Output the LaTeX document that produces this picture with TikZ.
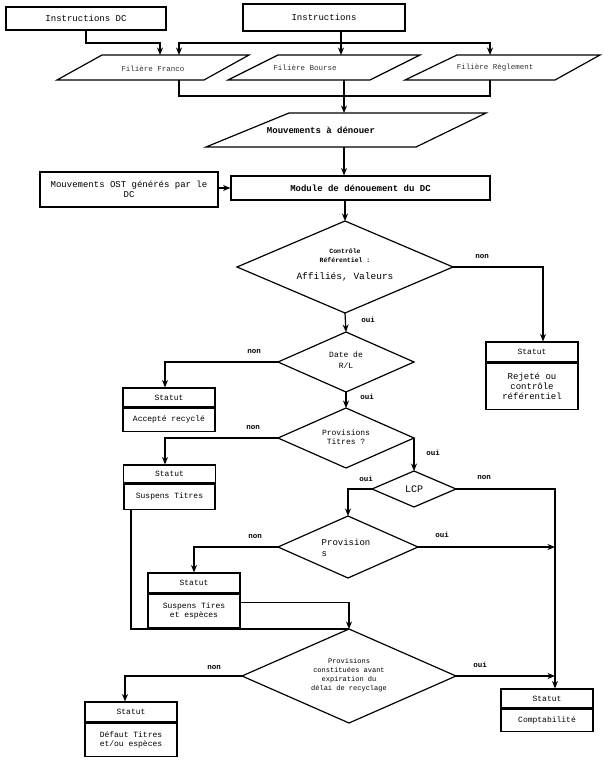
\documentclass[tikz,border=0pt]{standalone}
\usepackage{fontspec}
\setmainfont{Liberation Mono}
\usetikzlibrary{arrows.meta,calc}
\tikzset{
  ln/.style={line width=1.2pt, line join=miter},
  arr/.style={ln,-{Stealth[length=7.5pt,width=6pt]}},
  box/.style={draw, line width=1.1pt, inner sep=1pt, align=center},
  hdr/.style={box, minimum width=92pt, font=\fontsize{8}{9}\selectfont},
  lbl/.style={font=\bfseries\fontsize{7.5}{8}\selectfont, inner sep=0pt},
  f8/.style={font=\fontsize{8}{9.5}\selectfont},
}
\begin{document}
\begin{tikzpicture}[x=1pt,y=-1pt]
\useasboundingbox (0,0) rectangle (604,762);
% top boxes
\node[box, minimum width=160pt, minimum height=23pt, font=\fontsize{9}{10}\selectfont] (idc) at (86,18.5) {Instructions DC};
\node[box, minimum width=162pt, minimum height=27pt, font=\fontsize{9}{10}\selectfont] (ins) at (324,17.5) {Instructions};
% parallelograms
\draw[ln] (102,55) -- (249,55) -- (204,80) -- (57,80) -- cycle;
\node[font=\fontsize{7.5}{8}\selectfont, text=black!80] (p1) at (153,68.5) {Filière Franco};
\draw[ln] (278,55) -- (420,55) -- (370,80) -- (228,80) -- cycle;
\node[font=\fontsize{7.5}{8}\selectfont, text=black!80] (p2) at (305,68) {Filière Bourse};
\draw[ln] (457,55) -- (600,55) -- (555,80) -- (405,80) -- cycle;
\node[font=\fontsize{7.5}{8}\selectfont, text=black!80] (p3) at (495,67.5) {Filière Règlement};
\coordinate (p1a) at (160,55);
\coordinate (p1b) at (179,55);
\coordinate (p2a) at (341,55);
\coordinate (p3a) at (490,55);
\coordinate (spl) at (341,43);
\draw[arr] (idc.south) -- (idc.south |- spl) -| (p1a);
\draw[arr] ([xshift=17pt]ins.south) -- (p2a);
\draw[arr] (spl) -| (p1b);
\draw[arr] (spl) -| (p3a);
% bracket below
\coordinate (b1) at (179,80);
\coordinate (b2) at (490,80);
\coordinate (b3) at (344,80);
\draw[ln] (b1) -- (179,96) -- (490,96) -- (b2);
% Mouvements a denouer
\draw[ln] (289,113) -- (486,113) -- (416,147) -- (206,147) -- cycle;
\node[font=\bfseries\fontsize{9}{10}\selectfont] (mad) at (321,130) {Mouvements à dénouer};
\coordinate (madn) at (344,113);
\coordinate (mads) at (344,147);
\draw[arr] (b3) -- (madn);
% module
\node[box, minimum width=259pt, minimum height=24pt, font=\bfseries\fontsize{9}{10}\selectfont] (mod) at (360.5,188) {Module de dénouement du DC};
\node[box, minimum width=178pt, minimum height=35pt, font=\fontsize{9}{10.5}\selectfont] (ost) at (129,189.5) {Mouvements OST générés par le\\DC};
\draw[arr] (mads) -- (mads |- mod.north);
\draw[arr] (ost.east |- mod.west) -- (mod.west);
% diamond 1
\coordinate (d1w) at (237,267); \coordinate (d1n) at (345,221);
\coordinate (d1e) at (453,267); \coordinate (d1s) at (345,313);
\draw[ln] (d1w) -- (d1n) -- (d1e) -- (d1s) -- cycle;
\node[align=center, font=\bfseries\fontsize{6.5}{9}\selectfont] (d1t) at (345,256) {Contrôle\\Référentiel :};
\node[font=\fontsize{9.5}{10}\selectfont] (d1u) at (345,277) {Affiliés, Valeurs};
\draw[arr] (d1n |- mod.south) -- (d1n);
% Rejete box
\node[hdr, minimum height=20pt] (rjh) at (532,352) {Statut};
\node[box, minimum width=92pt, minimum height=46pt, anchor=north, font=\fontsize{9}{10}\selectfont] (rjb) at (rjh.south) {Rejeté ou\\contrôle\\référentiel};
\draw[arr] (d1e) -| ([xshift=11pt]rjh.north);
\node[lbl] at (482,257) {non};
% diamond 2
\coordinate (d2w) at (278,362); \coordinate (d2n) at (346,332);
\coordinate (d2e) at (414,362); \coordinate (d2s) at (346,392);
\draw[ln] (d2w) -- (d2n) -- (d2e) -- (d2s) -- cycle;
\node[align=center, font=\fontsize{8}{11}\selectfont] (d2t) at (346,360) {Date de\\R/L};
\draw[arr] (d1s) -- (d2n);
\node[lbl] at (368,320) {oui};
% Accepte box
\node[hdr, minimum height=19pt] (ach) at (169,397.5) {Statut};
\node[box, minimum width=92pt, minimum height=23pt, anchor=north, f8] (acb) at (ach.south) {Accepté recyclé};
\draw[arr] (d2w) -| ([xshift=-4pt]ach.north);
\node[lbl] at (254,352) {non};
% diamond 3
\coordinate (d3w) at (278,438); \coordinate (d3n) at (346,408);
\coordinate (d3e) at (414,438); \coordinate (d3s) at (346,468);
\draw[ln] (d3w) -- (d3n) -- (d3e) -- (d3s) -- cycle;
\node[align=center, font=\fontsize{8}{9.5}\selectfont] (d3t) at (346,437) {Provisions\\Titres ?};
\draw[arr] (d2s) -- (d3n);
\node[lbl] at (367,397) {oui};
% Suspens Titres
\node[hdr, minimum height=18pt] (s1h) at (169.5,474) {Statut};
\node[box, minimum width=91pt, minimum height=25pt, anchor=north, f8] (s1b) at (s1h.south) {Suspens Titres};
\draw[arr] (d3w) -| ([xshift=-4.5pt]s1h.north);
\node[lbl] at (253,428) {non};
% LCP
\coordinate (lcw) at (372,489); \coordinate (lcn) at (414,471);
\coordinate (lce) at (456,489); \coordinate (lcs) at (414,507);
\draw[ln] (lcw) -- (lcn) -- (lce) -- (lcs) -- cycle;
\node[font=\fontsize{10}{11}\selectfont] (lct) at (414,489) {LCP};
\draw[arr] (d3e) -- (lcn);
\node[lbl] at (433,453) {oui};
% Comptabilite box
\node[hdr, minimum height=19pt] (cph) at (547,698.5) {Statut};
\node[box, minimum width=92pt, minimum height=22pt, anchor=north, f8] (cpb) at (cph.south) {Comptabilité};
\draw[arr] (lce) -| ([xshift=8pt]cph.north);
\node[lbl] at (484,478) {non};
% diamond 5
\coordinate (d5w) at (278,547); \coordinate (d5n) at (348,516);
\coordinate (d5e) at (418,547); \coordinate (d5s) at (348,578);
\draw[ln] (d5w) -- (d5n) -- (d5e) -- (d5s) -- cycle;
\node[align=left, font=\fontsize{9}{11}\selectfont] (d5t) at (346,548) {Provision\\s};
\draw[arr] (lcw) -| (d5n);
\node[lbl] at (366,479) {oui};
\coordinate (d5x) at ([xshift=8pt]cph.north |- d5e);
\draw[arr] (d5e) -- (d5x);
\node[lbl] at (442,535) {oui};
% Suspens Tires
\node[hdr, minimum height=20pt] (s2h) at (194,583) {Statut};
\node[box, minimum width=92pt, minimum height=33pt, anchor=north, font=\fontsize{8}{9}\selectfont] (s2b) at (s2h.south) {Suspens Tires\\et espèces};
\draw[arr] (d5w) -| (s2h.north);
\node[lbl] at (255,537) {non};
% diamond 6
\coordinate (d6w) at (242,676); \coordinate (d6n) at (349,629);
\coordinate (d6e) at (456,676); \coordinate (d6s) at (349,723);
\draw[ln] (d6w) -- (d6n) -- (d6e) -- (d6s) -- cycle;
\node[align=center, font=\fontsize{7}{9}\selectfont] (d6t) at (349,675.5) {Provisions\\constituées avant\\expiration du\\délai de recyclage};
\draw[arr] ([yshift=8.5pt]s2b.east) -| (d6n);
\draw[ln] ([xshift=-38.5pt]s1b.south) |- (d6n);
\coordinate (d6x) at ([xshift=8pt]cph.north |- d6e);
\draw[arr] (d6e) -- (d6x);
\node[lbl] at (480,665) {oui};
% Defaut box
\node[hdr, minimum height=20pt] (dfh) at (131,712) {Statut};
\node[box, minimum width=92pt, minimum height=33pt, anchor=north, font=\fontsize{8}{9}\selectfont] (dfb) at (dfh.south) {Défaut Titres\\et/ou espèces};
\draw[arr] (d6w) -| ([xshift=-6pt]dfh.north);
\node[lbl] at (214,668) {non};
\end{tikzpicture}
\end{document}
